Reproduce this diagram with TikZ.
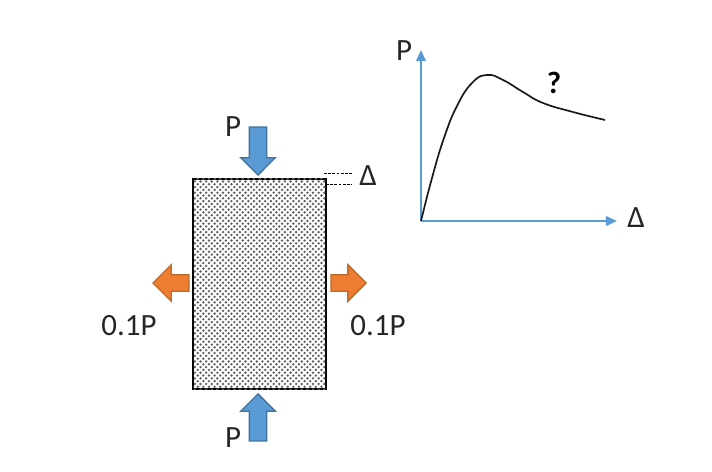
\documentclass[tikz,border=0pt]{standalone}
\usepackage{fontspec}
\setmainfont{Carlito}
\usetikzlibrary{arrows.meta,shapes.arrows,patterns}
\definecolor{loadblue}{HTML}{5B9BD5}
\definecolor{loadedge}{HTML}{41719C}
\definecolor{latorange}{HTML}{ED7D31}
\definecolor{latedge}{HTML}{BE6A2A}
\definecolor{labelink}{HTML}{262626}
\pgfdeclarepatternformonly{sandfill}{\pgfqpoint{-0.5pt}{-0.5pt}}{\pgfqpoint{4.5pt}{4.5pt}}{\pgfqpoint{4pt}{4pt}}{%
 \pgfpathcircle{\pgfqpoint{0.6pt}{0.6pt}}{0.95pt}
 \pgfpathcircle{\pgfqpoint{2.6pt}{2.6pt}}{0.95pt}
 \pgfusepath{fill}}
\begin{document}
\begin{tikzpicture}[x=0.025cm,y=-0.025cm,>={Triangle[width=7pt,length=8pt]},
 lab/.style={font=\fontsize{22}{24}\selectfont,text=labelink,inner sep=0pt},
 bluearrow/.style={shape=single arrow,draw=loadedge,fill=loadblue,line width=0.9pt,inner sep=0.2cm,minimum width=0.85cm,single arrow head extend=0.22cm},
 orangearrow/.style={shape=single arrow,draw=latedge,fill=latorange,line width=0.9pt,inner sep=0.19cm,minimum width=0.9cm,single arrow head extend=0.25cm},
 axis/.style={->,line width=1.2pt,loadblue}]
\useasboundingbox (0,0) rectangle (712,472);
% specimen
\node[draw=black,line width=1.2pt,fill=white,postaction={pattern=sandfill,pattern color=black!62},minimum width=3.325cm,minimum height=5.25cm,inner sep=0pt] (block) at (259.5,284) {};
% loads
\node[bluearrow,minimum height=1.2cm,rotate=-90,anchor=tip] (ptop) at (258,176) {};
\node[bluearrow,minimum height=1.175cm,rotate=90,anchor=tip] (pbot) at (258,393) {};
\node[orangearrow,minimum height=0.9cm,rotate=180,anchor=tip] (latl) at (152,283) {};
\node[orangearrow,minimum height=0.875cm,anchor=tip] (latr) at (367,283) {};
\node[lab] (ptoplab) at (233,127) {P};
\node[lab] (pbotlab) at (233,438) {P};
\node[lab] (latllab) at (129,326) {0.1P};
\node[lab] (latrlab) at (378,326) {0.1P};
\node[lab] (dlab) at (368,176) {Δ};
% settlement marks
\coordinate (d1) at (324,173);
\coordinate (d1e) at (352,173);
\coordinate (d2) at (326,184);
\coordinate (d2e) at (352,184);
\draw[line width=0.5pt,dash pattern=on 2pt off 1pt] (d1) -- (d1e);
\draw[line width=0.5pt,dash pattern=on 2pt off 1pt] (d2) -- (d2e);
% load-displacement graph
\coordinate (o) at (421,221);
\coordinate (ytip) at (421,50);
\coordinate (xtip) at (617,221);
\draw[axis] (o) -- (ytip);
\draw[axis] (o) -- (xtip);
\node[lab] (plab) at (404,51) {P};
\node[lab] (xlab) at (636,218) {Δ};
\node[lab,font=\fontsize{22}{24}\selectfont\bfseries,text=black] (qlab) at (554,83) {?};
\draw[line width=1.2pt,black!90,smooth,tension=0.8] plot coordinates {(o) (432,178) (444,138) (457,106) (472,83) (487,75) (503,80) (523,92) (543,103) (573,112) (605,120)};
\end{tikzpicture}
\end{document}
